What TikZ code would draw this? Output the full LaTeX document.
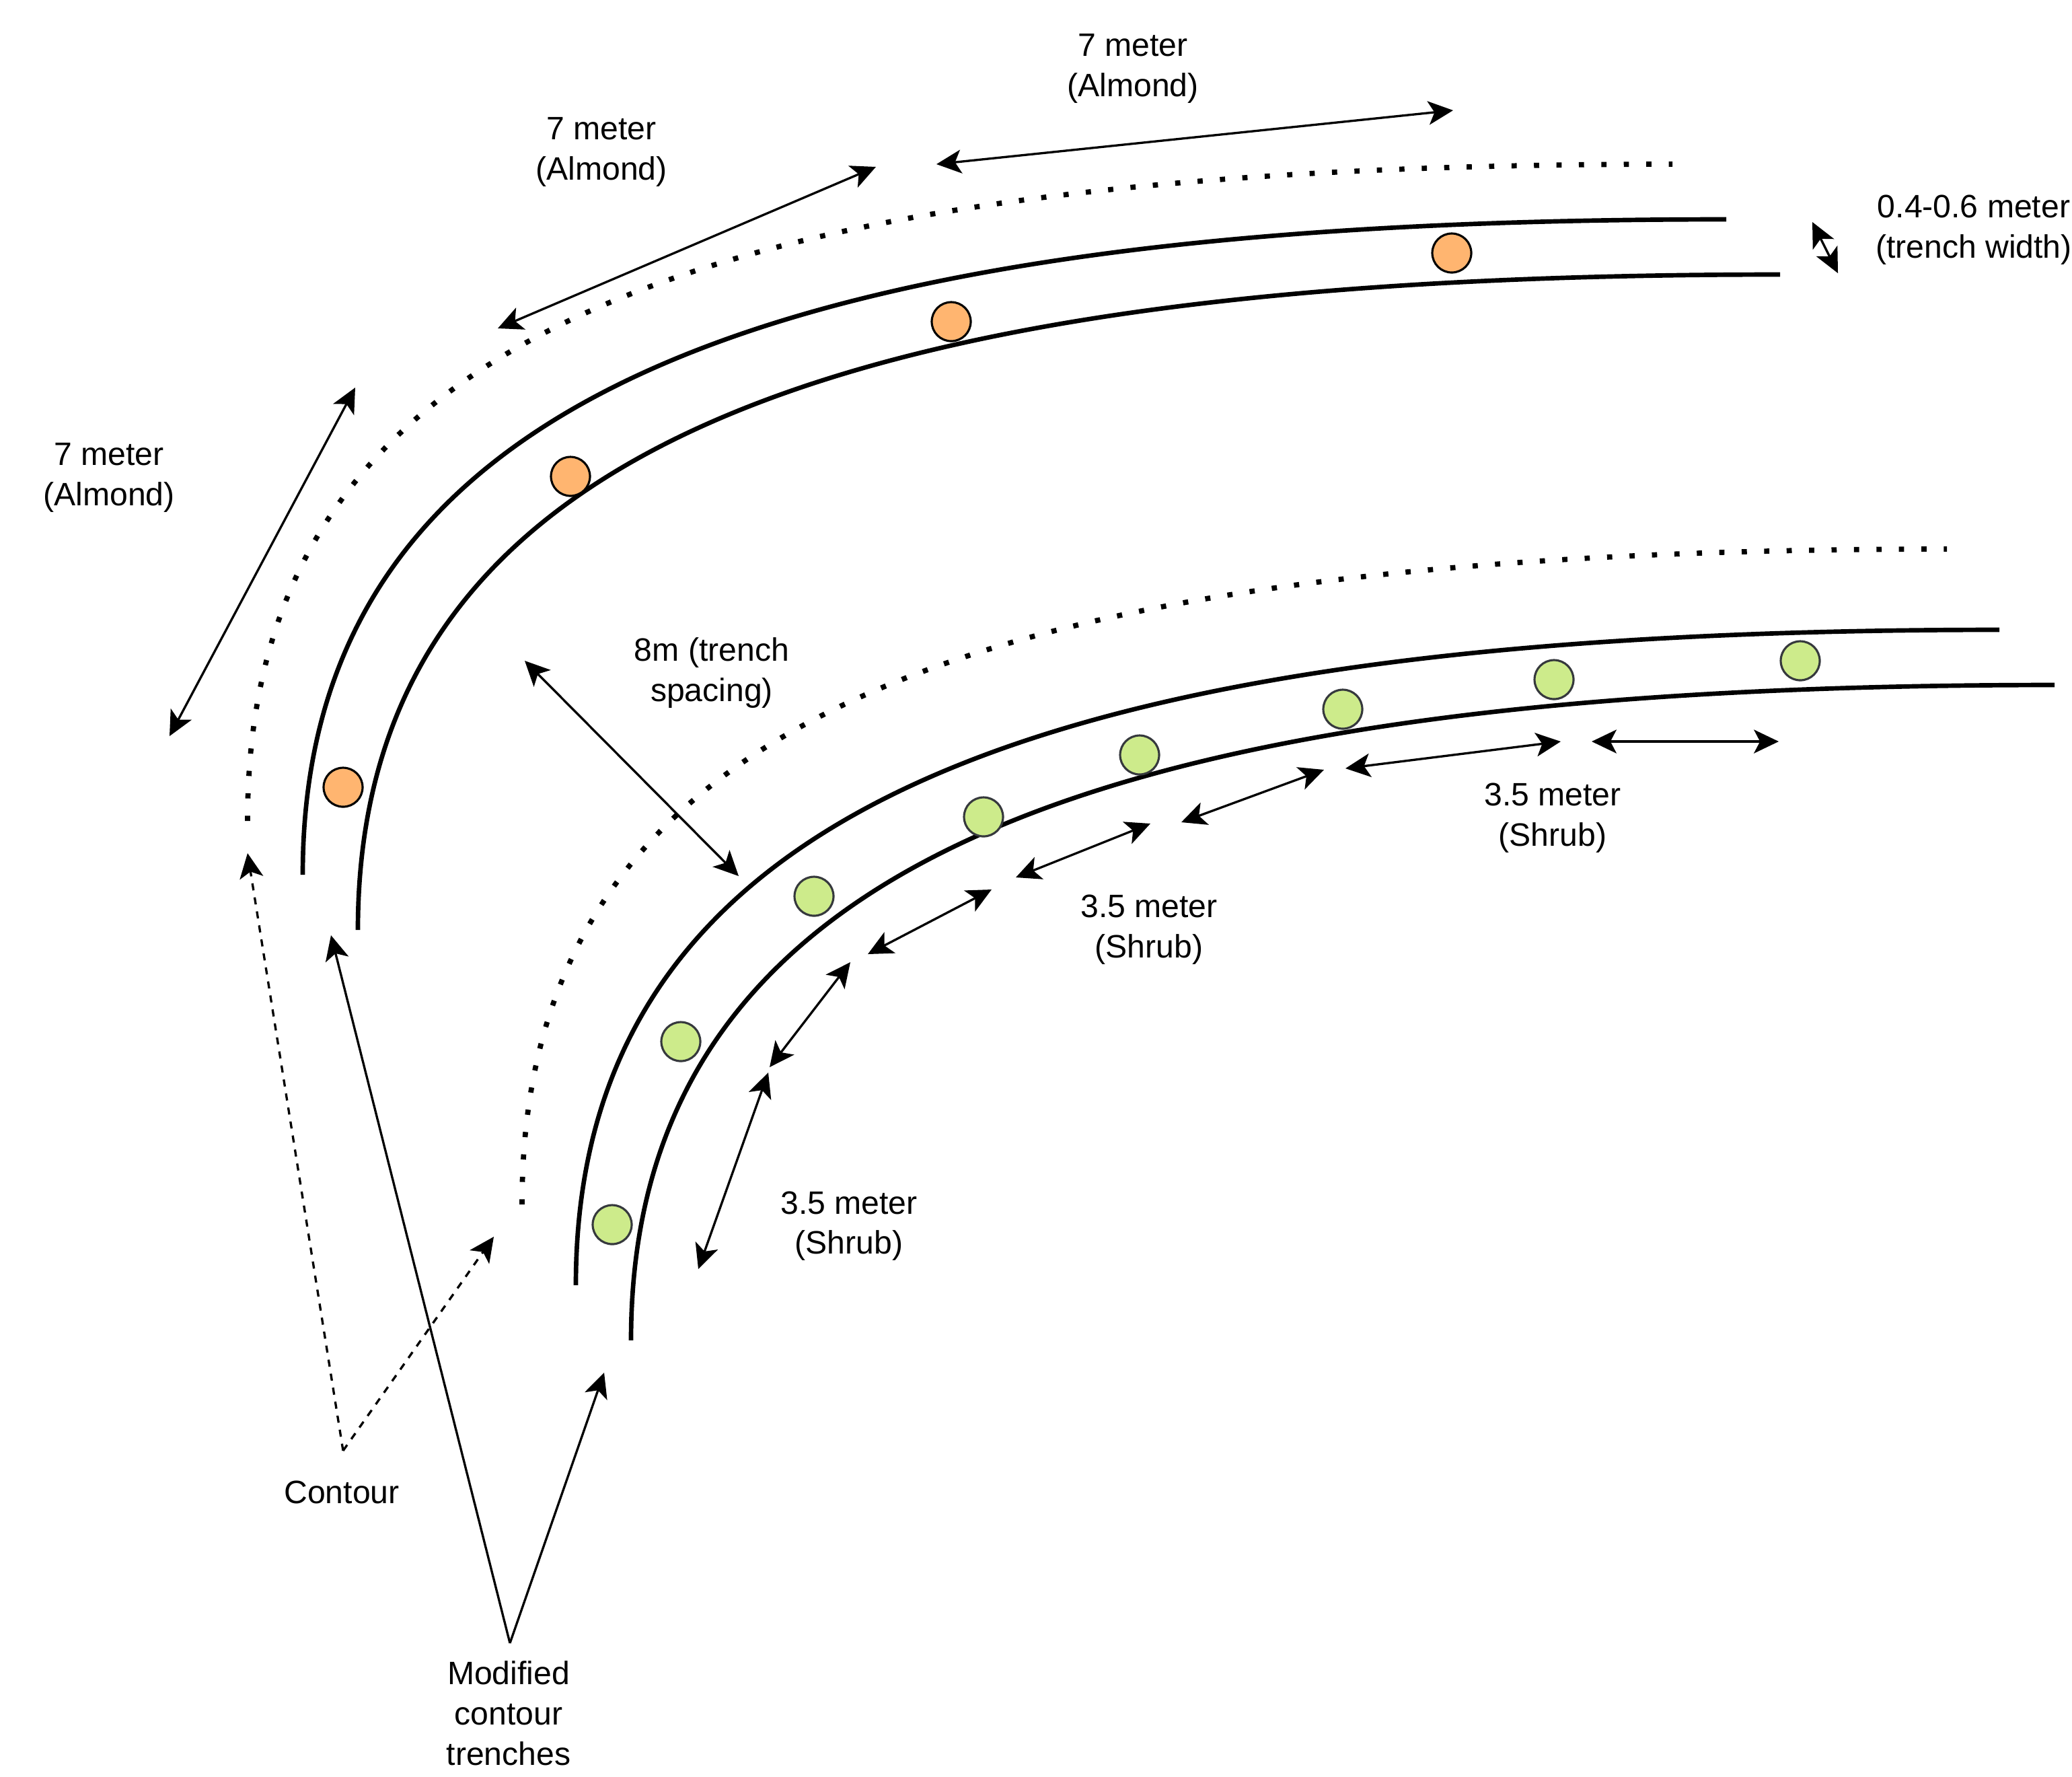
\documentclass[tikz,border=0pt]{standalone}
\usepackage{fontspec}
\setmainfont{Liberation Sans}
\usetikzlibrary{arrows.meta}
\definecolor{AlmondOrange}{HTML}{FFB570}
\definecolor{ShrubGreen}{HTML}{CDEB8B}
\definecolor{ShrubStroke}{HTML}{36393D}

\begin{document}
\begin{tikzpicture}[
        x=0.02cm, y=-0.02cm,
        >={Stealth[length=10.5pt,width=10pt,inset=2.6pt]},
        trench/.style={line width=1.9pt},
        contourline/.style={line width=2.2pt, dash pattern=on 2.2pt off 7.3pt},
        almond/.style={
            circle, draw=black, line width=0.9pt, fill=AlmondOrange,
            minimum size=0.58cm, inner sep=0pt
        },
        shrub/.style={
            circle, draw=ShrubStroke, line width=0.9pt, fill=ShrubGreen,
            minimum size=0.58cm, inner sep=0pt
        },
        txt/.style={font=\fontsize{13.7}{17}\selectfont, align=center, inner sep=0pt},
        dimarrow/.style={line width=0.95pt, <->},
        pointer/.style={line width=0.95pt, ->},
        dashpointer/.style={pointer, dash pattern=on 3pt off 3pt}
    ]
    \useasboundingbox (0,0) rectangle (1540,1320);

    % Contours
    \draw [contourline] (184,610) .. controls (184,250) and (510,122) .. (1243,122);
    \draw [contourline] (388,895) .. controls (388,535) and (714,408) .. (1447,408);

    % Trenches
    \draw [trench] (225,650) .. controls (225,290) and (580,163) .. (1283,163);
    \draw [trench] (266,691) .. controls (266,331) and (621,204) .. (1323,204);
    \draw [trench] (428,955) .. controls (428,595) and (783,468) .. (1486,468);
    \draw [trench] (469,996) .. controls (469,636) and (824,509) .. (1527,509);

    % Almond trees
    \node (almond1) [almond] at (255,585) {};
    \node (almond2) [almond] at (424,354) {};
    \node (almond3) [almond] at (707,239) {};
    \node (almond4) [almond] at (1079,188) {};

    % Shrubs
    \node (shrub1) [shrub] at (455,910) {};
    \node (shrub2) [shrub] at (506,774) {};
    \node (shrub3) [shrub] at (605,666) {};
    \node (shrub4) [shrub] at (731,607) {};
    \node (shrub5) [shrub] at (847,561) {};
    \node (shrub6) [shrub] at (998,527) {};
    \node (shrub7) [shrub] at (1155,505) {};
    \node (shrub8) [shrub] at (1338,491) {};

    % Labels
    \node (almondlbl1) [txt] at (81,355) {7 meter\\(Almond)};
    \node (almondlbl2) [txt] at (447,113) {7 meter\\(Almond)};
    \node (almondlbl3) [txt] at (842,51) {7 meter\\(Almond)};
    \node (widthlbl) [txt] at (1467,171) {0.4-0.6 meter\\(trench width)};
    \node (spacinglbl) [txt] at (529,500) {8m (trench\\spacing)};
    \node (shrublbl1) [txt] at (631,911) {3.5 meter\\(Shrub)};
    \node (shrublbl2) [txt] at (854,691) {3.5 meter\\(Shrub)};
    \node (shrublbl3) [txt] at (1154,608) {3.5 meter\\(Shrub)};
    \node (contourlbl) [txt] at (254,1109) {Contour};
    \node (trenchlbl) [txt] at (378,1273) {Modified\\contour\\trenches};

    % Measure points
    \coordinate (a1s) at (126,547);  \coordinate (a1e) at (264,288);
    \coordinate (a2s) at (370,244);  \coordinate (a2e) at (651,124);
    \coordinate (a3s) at (696,122);  \coordinate (a3e) at (1080,82);
    \coordinate (ws) at (1347,165);  \coordinate (we) at (1366,203);
    \coordinate (sps) at (390,491);  \coordinate (spe) at (549,651);
    \coordinate (s1s) at (519,943);  \coordinate (s1e) at (571,797);
    \coordinate (s2s) at (572,793);  \coordinate (s2e) at (632,715);
    \coordinate (s3s) at (645,709);  \coordinate (s3e) at (737,661);
    \coordinate (s4s) at (755,652);  \coordinate (s4e) at (855,612);
    \coordinate (s5s) at (878,611);  \coordinate (s5e) at (984,572);
    \coordinate (s6s) at (1000,571); \coordinate (s6e) at (1160,551);
    \coordinate (s7s) at (1183,551); \coordinate (s7e) at (1322,551);

    % Spacing arrows
    \draw [dimarrow] (a1s) -- (a1e);
    \draw [dimarrow] (a2s) -- (a2e);
    \draw [dimarrow] (a3s) -- (a3e);
    \draw [dimarrow] (ws) -- (we);
    \draw [dimarrow] (sps) -- (spe);
    \draw [dimarrow] (s1s) -- (s1e);
    \draw [dimarrow] (s2s) -- (s2e);
    \draw [dimarrow] (s3s) -- (s3e);
    \draw [dimarrow] (s4s) -- (s4e);
    \draw [dimarrow] (s5s) -- (s5e);
    \draw [dimarrow] (s6s) -- (s6e);
    \draw [dimarrow] (s7s) -- (s7e);

    % Pointers
    \coordinate (contourtip) at (255,1078);
    \coordinate (contour1) at (184,634);
    \coordinate (contour2) at (367,919);
    \coordinate (trenchtip) at (379,1221);
    \coordinate (trench1) at (246,695);
    \coordinate (trench2) at (449,1020);
    \draw [dashpointer] (contourtip) -- (contour1);
    \draw [dashpointer] (contourtip) -- (contour2);
    \draw [pointer] (trenchtip) -- (trench1);
    \draw [pointer] (trenchtip) -- (trench2);

\end{tikzpicture}
\end{document}
